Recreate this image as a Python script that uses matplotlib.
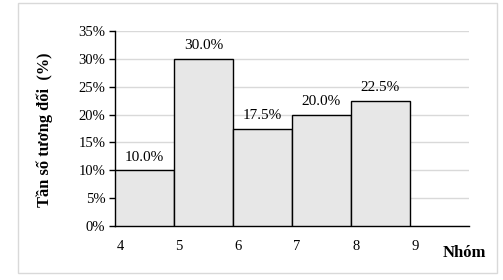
import matplotlib
matplotlib.use("Agg")
import matplotlib.pyplot as plt
import matplotlib.transforms as mtransforms
from matplotlib.patches import Rectangle

# class edges and relative frequencies (%)
left_edges = [4, 5, 6, 7, 8]
freq = [10.0, 30.0, 17.5, 20.0, 22.5]
xtick_vals = [4, 5, 6, 7, 8, 9]
ytick_vals = [0, 5, 10, 15, 20, 25, 30, 35]

plt.rcParams['font.family'] = ['Liberation Serif', 'DejaVu Serif']

fig = plt.figure(figsize=(5.03, 2.8), dpi=100)
ax = fig.add_axes([0.2286, 0.193, 0.7038, 0.696])

# light border around the whole chart
fig.patches.append(Rectangle((18 / 503, 7 / 280), 479 / 503, 270 / 280,
                             transform=fig.transFigure, fill=False,
                             edgecolor='#d9d9d9', linewidth=1))

ax.bar(left_edges, freq, width=1, align='edge', color='#e7e7e7',
       edgecolor='black', linewidth=1, zorder=3)
for x, v in zip(left_edges, freq):
    ax.text(x + 0.5, v + 1.2, "{:.1f}%".format(v), ha='center', va='bottom',
            fontsize=11, zorder=4)

ax.set_xlim(4, 10)
ax.set_ylim(0, 35)
ax.set_yticks(ytick_vals)
ax.set_yticklabels(["{}%".format(v) for v in ytick_vals], fontsize=10.5)
ax.set_xticks(xtick_vals)
ax.set_xticklabels([str(v) for v in xtick_vals], fontsize=10.5)
ax.tick_params(axis='x', length=0, pad=10)
ax.tick_params(axis='y', length=4, width=1, pad=3)
offset = mtransforms.ScaledTranslation(5 / 100, 0, fig.dpi_scale_trans)
for lab in ax.get_xticklabels():
    lab.set_transform(lab.get_transform() + offset)

ax.grid(axis='y', color='#d9d9d9', linewidth=1, zorder=0)
ax.set_axisbelow(True)
for s in ['top', 'right']:
    ax.spines[s].set_visible(False)
ax.spines['left'].set_linewidth(1)
ax.spines['bottom'].set_linewidth(1)

fig.text(45 / 503, 1 - 130 / 280, "Tần số tương đối  (%)", rotation=90,
         ha='center', va='center', fontsize=11.8, fontweight='bold')
fig.text(464 / 503, 1 - 253 / 280, "Nhóm", ha='center', va='center',
         fontsize=12, fontweight='bold')

fig.savefig("out.png", dpi=100)
